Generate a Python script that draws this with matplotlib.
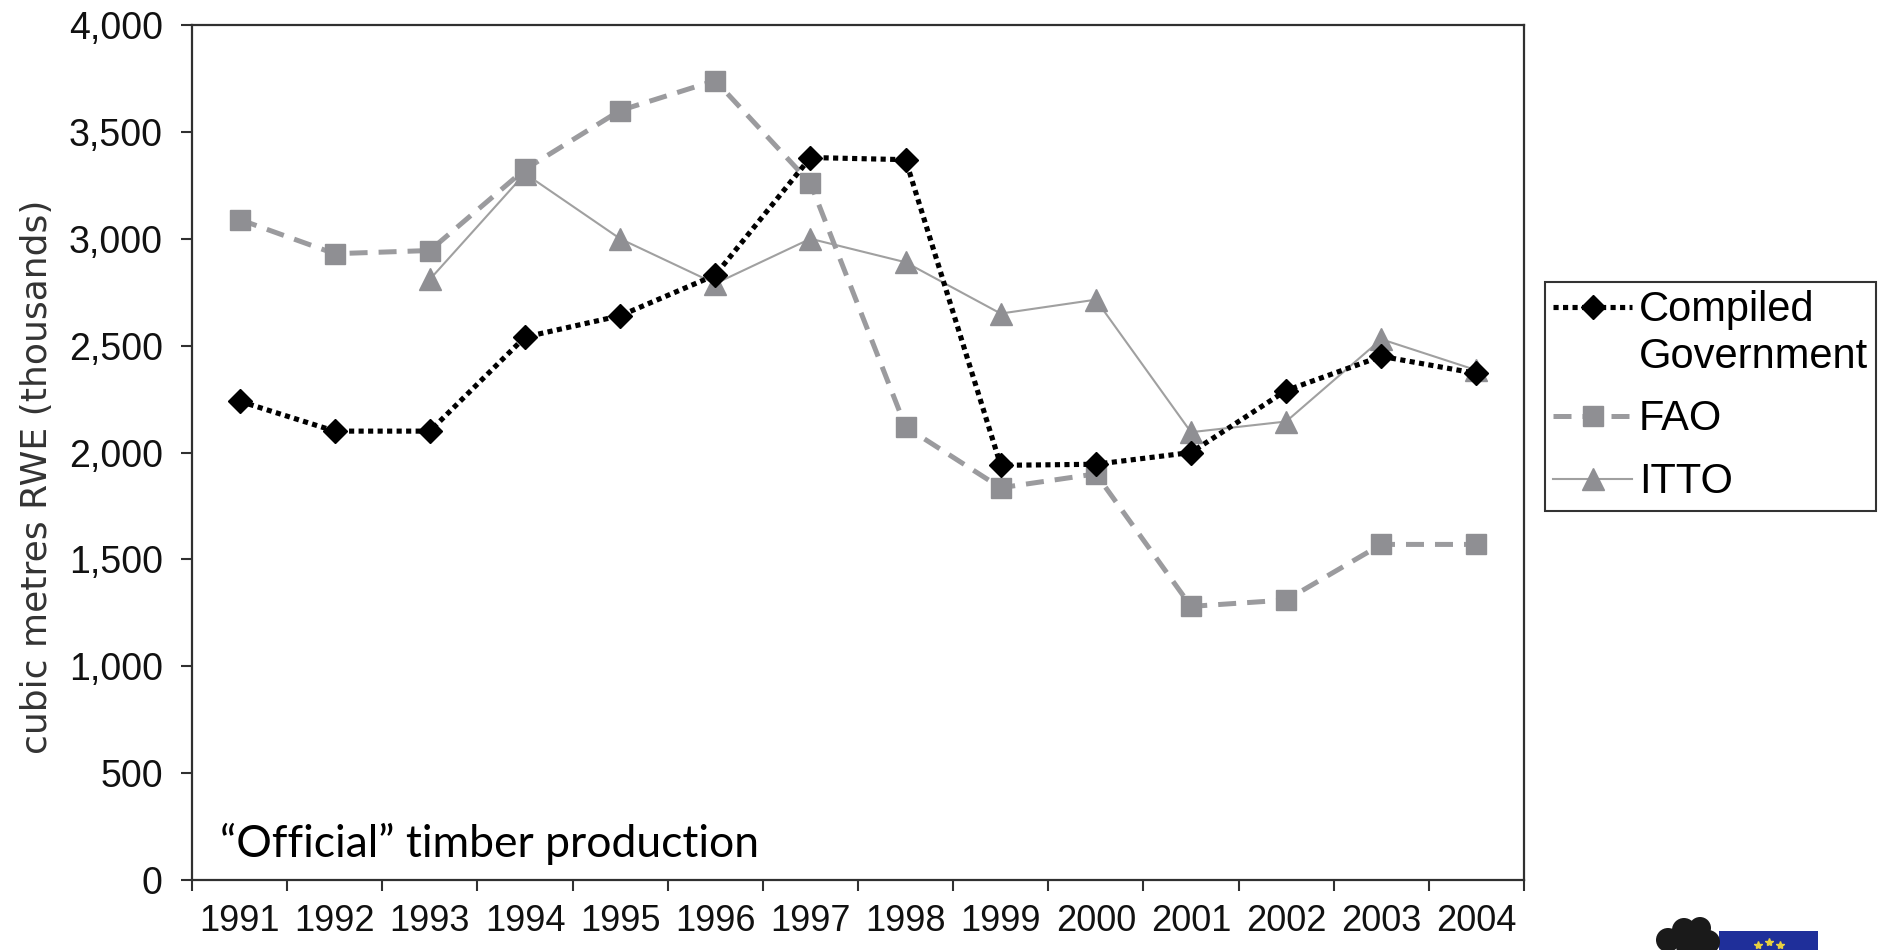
import numpy as np
import matplotlib
matplotlib.use('Agg')
import matplotlib.pyplot as plt
from matplotlib import font_manager
from matplotlib.lines import Line2D
from matplotlib.patches import Rectangle, Ellipse
from matplotlib.legend_handler import HandlerLine2D
from matplotlib.ticker import FuncFormatter

# data
years = ['1991', '1992', '1993', '1994', '1995', '1996', '1997',
         '1998', '1999', '2000', '2001', '2002', '2003', '2004']
compiled_gov = [2240, 2100, 2100, 2540, 2640, 2830, 3380, 3370, 1940, 1945, 2000, 2290, 2450, 2370]
fao = [3090, 2930, 2945, 3325, 3600, 3740, 3260, 2120, 1835, 1900, 1280, 1310, 1570, 1570]
itto = [np.nan, np.nan, 2810, 3305, 3000, 2790, 3000, 2890, 2650, 2715, 2095, 2145, 2530, 2385]
series_labels = ['Compiled\nGovernment', 'FAO', 'ITTO']
y_ticks = [0, 500, 1000, 1500, 2000, 2500, 3000, 3500, 4000]

# the year labels in the original are set in a narrow face
installed = {f.name for f in font_manager.fontManager.ttflist}
if 'Liberation Sans Narrow' in installed:
    xfont, xsize = 'Liberation Sans Narrow', 29
else:
    xfont, xsize = 'Liberation Sans', 26

W, H = 1881, 950
fig = plt.figure(figsize=(W / 100, H / 100), dpi=100)
ax = fig.add_axes([192 / W, 1 - 880 / H, (1524 - 192) / W, (880 - 25) / H])

x = np.arange(len(years))
grey = '#8f8f93'

l_itto, = ax.plot(x, itto, color='#a0a0a0', lw=1.5, marker='^', ms=16,
                  mfc=grey, mec=grey, zorder=2)
l_fao, = ax.plot(x, fao, color='#9b9b9e', lw=3.6, dashes=(3.6, 2.2), marker='s', ms=15,
                 mfc=grey, mec=grey, zorder=3)
l_cg, = ax.plot(x, compiled_gov, color='black', lw=3.7, dashes=(1, 0.85), marker='D', ms=12,
                mfc='black', mec='black', zorder=4)

ax.set_xlim(-0.5, len(years) - 0.5)
ax.set_ylim(0, 4000)
ax.set_yticks(y_ticks)
ax.yaxis.set_major_formatter(FuncFormatter(lambda v, p: f'{int(v):,}'))

# category axis: ticks between years, labels under the middle
ax.set_xticks(np.arange(-0.5, len(years), 1.0))
ax.set_xticklabels([])
ax.set_xticks(x, minor=True)
ax.set_xticklabels(years, minor=True, family=xfont, fontsize=xsize, color='#111111')

for s in ax.spines.values():
    s.set_linewidth(1.6)
    s.set_color('#303030')
ax.tick_params(axis='both', which='major', direction='out', length=8, width=1.5, color='#303030')
ax.tick_params(axis='y', labelsize=27, pad=13, labelcolor='#111111')
ax.tick_params(axis='x', which='minor', length=0, pad=17)
for t in ax.get_yticklabels():
    t.set_family('Liberation Sans')

fig.text(37 / W, 1 - 477 / H, 'cubic metres RWE (thousands)', rotation=90,
         ha='center', va='center', fontsize=26, color='#333333')

ax.text(0.021, 0.042, '\u201cOfficial\u201d timber production', transform=ax.transAxes,
        fontsize=32, family='Lato', ha='left', va='center', color='black')


class TopLineHandler(HandlerLine2D):
    # put the handle beside the first line of a two-line label
    def create_artists(self, legend, orig_handle, xdescent, ydescent, width, height, fontsize, trans):
        arts = super().create_artists(legend, orig_handle, xdescent, ydescent, width, height, fontsize, trans)
        for a in arts:
            a.set_ydata(np.asarray(a.get_ydata()) + fontsize * 0.66)
        return arts


leg = ax.legend([l_cg, l_fao, l_itto], series_labels, loc='upper left',
                bbox_to_anchor=(1545 / W, 1 - 282 / H), bbox_transform=fig.transFigure,
                prop={'family': 'Liberation Sans', 'size': 30},
                handlelength=1.9, handletextpad=0.15, labelspacing=0.55,
                borderpad=0.2, borderaxespad=0, frameon=True, fancybox=False,
                handler_map={l_cg: TopLineHandler()})
leg.get_frame().set_edgecolor('black')
leg.get_frame().set_linewidth(1.5)
leg.get_texts()[0].set_linespacing(1.2)

# partly visible logo in the bottom right corner
fig.patches.append(Rectangle((1719 / W, 0), 99 / W, 19 / H, transform=fig.transFigure,
                             facecolor='#1f2f9a', edgecolor='none'))
for cx, cy, r in [(1668, 940, 12), (1684, 930, 12), (1700, 928, 11), (1708, 942, 12), (1688, 946, 12)]:
    fig.patches.append(Ellipse((cx / W, 1 - cy / H), 2 * r / W, 2 * r / H,
                               transform=fig.transFigure, facecolor='#1a1a1a', edgecolor='none'))
for sx, sy in [(1758, 945), (1769, 942), (1780, 945)]:
    fig.add_artist(Line2D([sx / W], [1 - sy / H], transform=fig.transFigure, marker='*',
                          ms=6, color='#e8d040', lw=0))

fig.savefig('out.png', dpi=100)
